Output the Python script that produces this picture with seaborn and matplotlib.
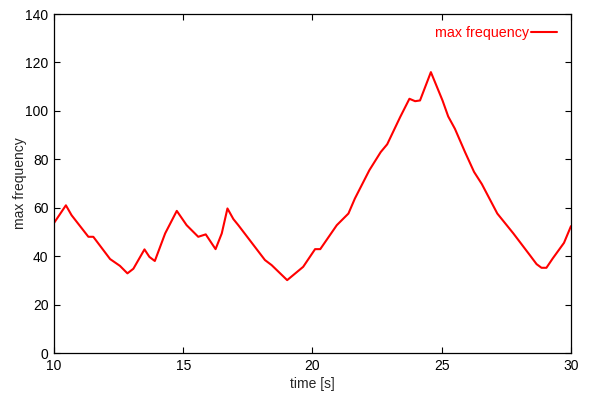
import matplotlib
matplotlib.use("Agg")
import matplotlib.pyplot as plt
import seaborn as sns
import pandas as pd

time_s = [10.0, 10.46, 10.68, 11.33, 11.52, 12.17, 12.55, 12.84, 13.07, 13.5, 13.69, 13.9,
          14.3, 14.75, 15.13, 15.58, 15.87, 16.25, 16.49, 16.71, 16.94, 17.13, 18.16, 18.42,
          19.02, 19.64, 20.1, 20.3, 20.94, 21.39, 21.64, 22.2, 22.64, 22.89, 23.39, 23.75,
          23.97, 24.16, 24.58, 25.03, 25.25, 25.51, 25.9, 26.25, 26.55, 27.15, 27.77, 28.41,
          28.67, 28.86, 29.05, 29.29, 29.73, 30.0]
max_freq = [53.7, 61.0, 56.9, 48.0, 48.0, 38.8, 36.0, 32.9, 34.8, 42.8, 39.7, 38.0,
            49.4, 58.7, 52.8, 48.0, 49.0, 42.9, 49.4, 59.7, 55.3, 52.8, 38.4, 36.3,
            30.1, 35.6, 42.9, 42.9, 52.8, 57.6, 63.8, 75.5, 83.0, 86.2, 97.4, 105.0,
            104.0, 104.3, 116.0, 104.3, 97.7, 92.6, 83.0, 74.8, 69.8, 57.6, 49.4, 40.4,
            36.7, 35.2, 35.2, 39.0, 45.5, 52.4]
series_label = "max frequency"

df = pd.DataFrame({"time": time_s, "freq": max_freq})

sns.set_theme(style="white")
plt.rcParams["font.family"] = ["Liberation Sans", "DejaVu Sans"]

fig = plt.figure(figsize=(5.89, 3.98), dpi=100)
ax = fig.add_axes([0.0917, 0.113, 0.8777, 0.8518])

sns.lineplot(data=df, x="time", y="freq", ax=ax, color="#ff0000", linewidth=1.5,
             estimator=None, sort=False, label=series_label)

ax.set_xlim(10, 30)
ax.set_ylim(0, 140)
ax.set_xticks([10, 15, 20, 25, 30])
ax.set_yticks([0, 20, 40, 60, 80, 100, 120, 140])
ax.set_xlabel("time [s]", fontsize=10, labelpad=3)
ax.set_ylabel("max frequency", fontsize=10, labelpad=-1.5)
ax.tick_params(axis="both", direction="in", length=4, width=0.8, labelsize=10,
               top=True, right=True, bottom=True, left=True, pad=4, colors="black")
for s in ax.spines.values():
    s.set_color("black")
    s.set_linewidth(0.9)
    s.set_visible(True)

leg = ax.legend(loc="upper right", bbox_to_anchor=(1.0, 1.008), frameon=False,
                markerfirst=False, labelcolor="#ff0000",
                fontsize=10.3, handlelength=1.8, handletextpad=0.1, borderaxespad=0.6)

fig.savefig("out.png", dpi=100)
